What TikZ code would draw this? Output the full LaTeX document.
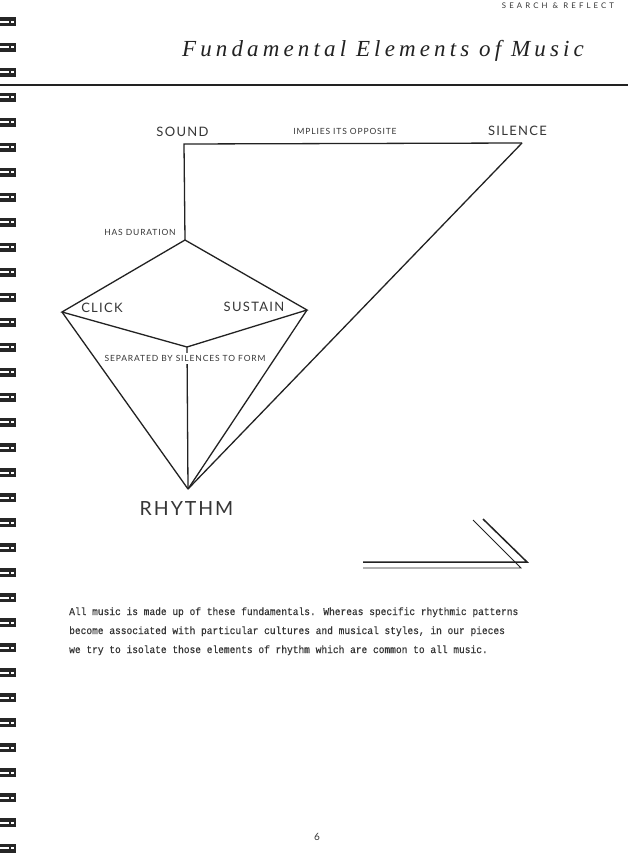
\documentclass[tikz,border=0pt]{standalone}
\usepackage{fontspec}
\setmainfont{Liberation Serif}
\newfontfamily\labfont[LetterSpace=10]{Lato}
\newfontfamily\hdrfont[LetterSpace=40]{Lato}
\newfontfamily\titlefont[LetterSpace=18]{Liberation Serif}
\newfontfamily\bodyfont[FakeStretch=0.91,FakeBold=0.4]{Liberation Mono}
\definecolor{ink}{HTML}{222222}
\definecolor{txt}{HTML}{363636}
\tikzset{
  conn/.style={draw=ink, line width=1.3pt},
  biglab/.style={inner sep=0pt, text=txt, font=\labfont\fontsize{13}{15}\selectfont},
  smalllab/.style={inner sep=0pt, text=txt, font=\labfont\fontsize{8.5}{10}\selectfont},
  bodyline/.style={inner sep=0pt, anchor=base west, text=txt, font=\bodyfont\fontsize{10.5}{12}\selectfont},
  bindmark/.style={fill=black!85},
}
\begin{document}
\begin{tikzpicture}[x=1pt,y=-1pt]
\useasboundingbox (0,0) rectangle (628,864);
\fill[white] (0,0) rectangle (628,864);

% binding marks
\foreach \k in {0,...,33}{
  \pgfmathsetmacro{\yy}{22+25.03*\k}
  \fill[bindmark] (0,\yy-4.5) rectangle (16,\yy-1);
  \fill[bindmark] (0,\yy+1) rectangle (16,\yy+4.5);
  \fill[bindmark] (8.5,\yy-4.5) rectangle (11,\yy+4.5);
  \fill[bindmark] (13.5,\yy-4.5) rectangle (16,\yy+4.5);
}

% header
\node[inner sep=0pt, text=txt, font=\hdrfont\fontsize{7.8}{9}\selectfont] (hdr) at (558,6) {SEARCH \& REFLECT};
\node[inner sep=0pt, anchor=base, text=ink, font=\titlefont\itshape\fontsize{23}{26}\selectfont] (title) at (383,57) {Fundamental Elements of Music};
\coordinate (ruleL) at (0,85);
\coordinate (ruleR) at (628,85);
\draw[draw=ink, line width=2pt] (ruleL) -- (ruleR);

% corner points
\coordinate (sc) at (184,144);
\coordinate (lc) at (522,143);
\coordinate (dt) at (185,240);
\coordinate (dl) at (62,312);
\coordinate (dr) at (307,310);
\coordinate (db) at (187,347);
\coordinate (rh) at (188,489);

% connectors
\draw[conn] (lc) -- (sc) -- (dt);
\draw[conn] (dt) -- (dl) -- (db) -- (dr) -- cycle;
\draw[conn] (dl) -- (rh);
\draw[conn] (dr) -- (rh);
\draw[conn] (db) -- (rh);
\draw[conn] (lc) -- (rh);

% labels
\node[biglab] (sound) at (182.5,131.5) {SOUND};
\node[smalllab] (implies) at (345,131.5) {IMPLIES ITS OPPOSITE};
\node[biglab] (silence) at (517.5,131) {SILENCE};
\node[smalllab] (hasdur) at (140,232) {HAS DURATION};
\node[biglab] (click) at (102,307.5) {CLICK};
\node[biglab] (sustain) at (254,307) {SUSTAIN};
\node[smalllab, fill=white, inner ysep=2pt] (separated) at (185,358.5) {SEPARATED BY SILENCES TO FORM};
\node[inner sep=0pt, text=txt, font=\labfont\fontsize{19.5}{22}\selectfont] (rhythm) at (186.5,509) {RHYTHM};

% double-line arrow
\coordinate (a1) at (363,562);
\coordinate (a2) at (527,562);
\coordinate (a3) at (483,519);
\coordinate (b1) at (363,568);
\coordinate (b2) at (521,568);
\coordinate (b3) at (473,520);
\draw[draw=ink, line width=1.5pt] (a1) -- (a2) -- (a3);
\draw[draw=ink, line width=0.9pt] (b1) -- (b2) -- (b3);

% paragraph
\node[bodyline] (p1) at (69,615) {All music is made up of these fundamentals. Whereas specific rhythmic patterns};
\node[bodyline] (p2) at (69,634) {become associated with particular cultures and musical styles, in our pieces};
\node[bodyline] (p3) at (69,653) {we try to isolate those elements of rhythm which are common to all music.};

% page number
\node[inner sep=0pt, text=txt, font=\labfont\fontsize{10}{12}\selectfont] (pnum) at (317,837) {6};
\end{tikzpicture}
\end{document}
